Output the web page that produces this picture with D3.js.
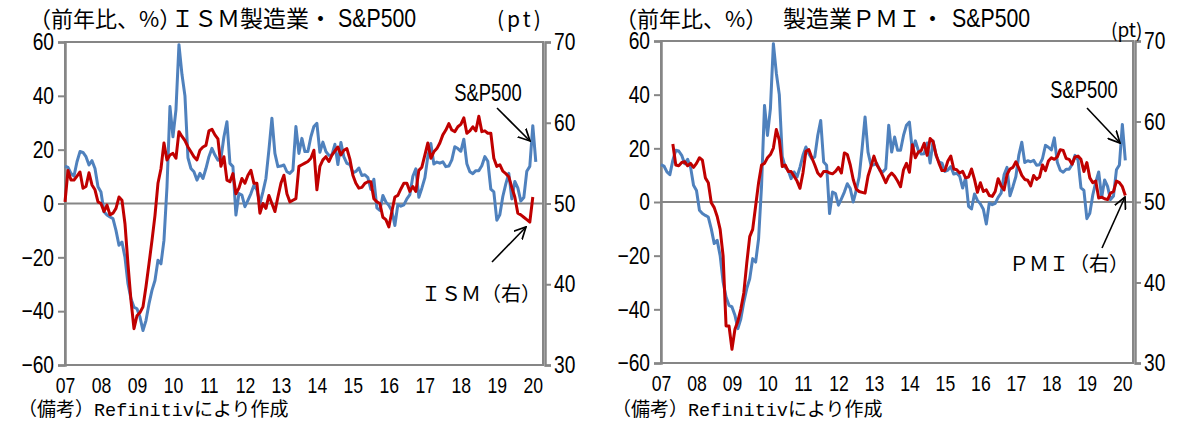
<!DOCTYPE html>
<html><head><meta charset="utf-8">
<script src="https://cdn.jsdelivr.net/npm/d3@7"></script>
<style>
body{margin:0;background:#fff;}
svg text{font-family:"Noto Sans CJK JP","Noto Sans",sans-serif;fill:#000;}
.num{font-family:"Liberation Sans","DejaVu Sans",sans-serif;}
</style></head><body>
<svg id="chart" width="1181" height="421"></svg>
<script>
// ---- data (monthly, index 0 = Jan 2007) ----
const yearLabels = ["07","08","09","10","11","12","13","14","15","16","17","18","19","20"];
const leftTicks = [-60,-40,-20,0,20,40,60];
const rightTicks = [30,40,50,60,70];

// S&P500 YoY (%), Jan 2007 - Feb 2020
const spx = [13.9,13.4,11.2,10.2,15.5,19.3,19.0,17.4,14.3,15.9,13.0,6.2,
 4.3,-3.1,-4.3,-5.0,-5.6,-10.0,-15.5,-14.3,-20.0,-29.8,-35.4,-38.5,
 -39.1,-42.2,-47.2,-43.5,-37.3,-32.3,-28.6,-21.1,-22.4,-13.7,6.0,36.0,
 24.8,34.8,59.0,48.0,40.0,17.0,13.0,11.8,8.7,11.2,9.3,13.0,
 17.4,20.5,18.0,16.1,16.8,24.8,30.4,14.9,13.7,-4.3,3.7,3.1,
 -1.2,1.2,3.7,6.8,5.0,0.0,4.3,9.3,19.9,31.7,18.6,13.7,
 13.9,14.3,11.8,11.2,12.4,28.6,18.6,24.2,19.3,19.3,24.8,28.6,
 29.8,19.0,22.8,19.3,17.9,18.0,22.0,14.5,22.7,17.3,14.9,14.5,
 11.4,11.9,13.2,10.4,10.7,9.6,5.2,9.0,-1.6,-2.6,3.0,0.6,
 -0.7,-2.7,-8.2,-0.4,-1.0,-0.5,1.7,3.3,10.1,12.9,2.3,5.7,
 9.5,17.5,22.3,14.7,15.4,15.0,15.5,13.7,13.9,16.2,21.1,20.4,
 19.4,23.9,14.8,11.8,11.1,12.2,12.2,14.0,17.4,15.7,5.3,4.3,
 -6.2,-4.2,2.6,7.3,11.2,1.7,8.2,5.8,0.9,2.2,12.0,13.8,
 28.9,15.5];

// ISM manufacturing (pt), Jan 2007 - Jan 2020
const ism = [50.2,54.1,52.9,52.9,53.4,53.9,51.9,52.1,53.8,52.3,51.7,50.2,
 50.0,49.0,49.8,48.6,48.8,49.4,50.8,50.4,47.5,42.5,38.0,34.5,
 36.1,36.5,37.2,39.7,42.5,45.4,48.5,52.5,54.3,57.5,55.4,56.0,
 56.2,55.6,58.9,58.3,57.8,57.0,56.4,55.8,55.4,56.6,57.0,57.2,
 59.0,59.2,58.5,58.0,54.6,55.8,52.9,52.7,53.7,51.2,51.9,53.1,
 52.5,53.5,54.1,52.5,52.5,48.8,50.0,49.4,51.0,50.0,49.0,50.8,
 52.5,53.5,51.2,50.2,50.4,50.6,54.6,54.8,55.0,55.2,55.6,56.6,
 51.7,54.6,55.4,55.8,55.2,56.0,56.5,57.0,56.0,56.6,56.8,55.5,
 53.5,52.5,51.9,52.0,52.5,52.7,52.7,50.6,50.2,50.0,48.3,48.0,
 47.1,49.0,50.8,51.0,51.8,52.5,52.5,51.5,52.1,51.5,54.1,54.5,
 56.0,57.5,55.6,56.4,56.8,57.5,58.5,59.1,59.9,59.1,58.9,59.5,
 59.8,60.6,58.7,59.0,59.5,59.0,60.8,58.9,59.0,58.7,58.7,55.6,
 54.6,54.8,54.0,53.7,53.3,52.0,50.8,48.8,48.6,48.3,48.0,47.7,
 50.8];

// Manufacturing PMI (pt), May 2007 - Feb 2020
const pmiStart = 4;
const pmi = [57.2,54.6,54.5,54.9,55.0,54.5,54.8,54.3,
 54.8,55.5,55.2,53.0,52.4,49.9,49.3,48.2,46.6,43.3,34.6,34.6,
 31.7,34.2,35.2,36.7,38.7,42.4,45.7,46.6,49.5,52.4,54.6,54.8,
 55.5,55.9,56.7,59.0,57.7,54.4,54.6,53.8,53.8,53.2,52.6,51.7,
 53.6,56.3,56.5,55.5,54.6,53.6,53.2,53.8,53.8,53.6,53.5,53.8,
 54.3,53.6,56.1,55.9,54.6,52.8,51.6,51.3,51.2,51.1,53.2,54.4,
 55.7,54.6,54.0,53.2,52.4,53.2,53.6,53.2,52.6,51.9,54.0,54.8,
 53.7,57.1,55.5,56.2,56.4,57.3,55.8,57.9,57.5,55.9,54.8,53.9,
 53.9,55.1,55.7,54.1,54.0,53.6,53.8,53.0,53.1,54.1,52.8,51.2,
 52.4,51.3,51.5,50.8,50.7,51.3,52.9,52.0,51.5,53.4,54.1,54.3,
 55.0,54.2,53.3,52.8,52.7,52.0,53.3,52.8,53.1,54.6,53.9,55.1,
 55.5,55.3,55.6,56.5,56.4,55.4,55.3,54.7,55.6,55.7,55.3,53.8,
 54.9,53.0,52.4,52.6,50.5,50.6,50.4,50.3,51.1,51.3,52.6,52.4,
 51.9,50.8];

const svg = d3.select("#chart");
const defs = svg.append("defs");
defs.append("marker").attr("id","arr").attr("viewBox","0 -6 12 12")
  .attr("refX",11).attr("refY",0).attr("markerWidth",13).attr("markerHeight",13)
  .attr("markerUnits","userSpaceOnUse").attr("orient","auto")
  .append("path").attr("d","M0,-5.5L11,0L0,5.5").attr("fill","none")
  .attr("stroke","#000").attr("stroke-width",1.6);

const AX = "#868686";
const SX = 0.8;   // horizontal condensing of the numeric labels
const panels = [
 {x0:65, x1:543, xr:545, y0:42, y1:365, months:159.4,
  red: ism, redStart:0,
  title1:"（前年比、%）", t1x:29, title2:"ＩＳＭ製造業・", t2x:171, t3x:338,
  pt:{x:497,y:27,fs:21,ls:3},
  spLab:{x:488,y:101}, spArr:[497,108,530,141],
  redLab:{x:541,y:301,t:"ＩＳＭ（右）"}, redArr:[492,262,526,227],
  foot:{x:18,y:416}},
 {x0:661, x1:1133, xr:1135, y0:41, y1:363, months:159.6,
  red: pmi, redStart:pmiStart,
  title1:"（前年比、%）", t1x:615, title2:"製造業ＰＭＩ・", t2x:783, t3x:952,
  pt:{x:1111,y:37,fs:19,ls:0},
  spLab:{x:1084,y:98}, spArr:[1087,108,1120,143],
  redLab:{x:1129,y:271,t:"ＰＭＩ（右）"}, redArr:[1102,248,1125,197],
  foot:{x:612,y:416}}
];

function condense(sel){
  sel.each(function(){
    const t = d3.select(this);
    const x0 = +t.attr("x") || 0;
    t.attr("x", x0 / SX).attr("transform", `scale(${SX},1)`);
  });
}

panels.forEach(p => {
  const g = svg.append("g");
  const x = d3.scaleLinear().domain([0,p.months]).range([p.x0,p.x1]);
  const yL = d3.scaleLinear().domain([-60,60]).range([p.y1,p.y0]);
  const yR = d3.scaleLinear().domain([30,70]).range([p.y1,p.y0]);

  // frame
  g.append("rect").attr("x",p.x0).attr("y",p.y0).attr("width",p.x1-p.x0).attr("height",p.y1-p.y0)
    .attr("fill","none").attr("stroke",AX).attr("stroke-width",2);
  // zero line
  g.append("line").attr("x1",p.x0).attr("x2",p.x1).attr("y1",yL(0)).attr("y2",yL(0))
    .attr("stroke",AX).attr("stroke-width",2);

  // left axis
  const la = g.append("g").attr("transform",`translate(${p.x0},0)`)
    .call(d3.axisLeft(yL).tickValues(leftTicks).tickSize(7).tickPadding(4));
  la.select(".domain").attr("stroke",AX).attr("stroke-width",2.5);
  la.selectAll(".tick line").attr("stroke",AX).attr("stroke-width",2);
  la.selectAll(".tick text").attr("class","num").attr("font-size",24).attr("fill","#000")
    .attr("font-family",null).call(condense);

  // right axis
  const ra = g.append("g").attr("transform",`translate(${p.xr},0)`)
    .call(d3.axisRight(yR).tickValues(rightTicks).tickSize(6).tickPadding(3));
  ra.select(".domain").attr("stroke",AX).attr("stroke-width",2.5);
  ra.selectAll(".tick line").attr("stroke",AX).attr("stroke-width",2);
  ra.selectAll(".tick text").attr("class","num").attr("font-size",24).attr("fill","#000")
    .attr("font-family",null).call(condense);

  // bottom labels
  const ba = g.append("g").attr("transform",`translate(0,${p.y1})`)
    .call(d3.axisBottom(x).tickValues(yearLabels.map((d,i)=>i*12))
      .tickFormat((d,i)=>yearLabels[i]).tickSize(0).tickPadding(12));
  ba.select(".domain").remove();
  ba.selectAll(".tick text").attr("class","num").attr("font-size",22).attr("fill","#000")
    .attr("font-family",null).call(condense);

  // lines
  const lineL = d3.line().x((d,i)=>x(i)).y(d=>yL(d));
  g.append("path").datum(spx).attr("d",lineL).attr("fill","none")
    .attr("stroke","#4f81bd").attr("stroke-width",3).attr("stroke-linejoin","round");
  const lineR = d3.line().x((d,i)=>x(i+p.redStart)).y(d=>yR(d));
  g.append("path").datum(p.red).attr("d",lineR).attr("fill","none")
    .attr("stroke","#c00000").attr("stroke-width",3).attr("stroke-linejoin","round");

  // titles
  g.append("text").attr("x",p.t1x).attr("y",27).attr("font-size",22).text(p.title1);
  g.append("text").attr("x",p.t2x).attr("y",27).attr("font-size",23).text(p.title2);
  g.append("text").attr("x",p.t3x / 0.82).attr("y",27).attr("class","num").attr("font-size",26)
    .attr("transform","scale(0.82,1)").text("S&P500");
  g.append("text").attr("x",p.pt.x).attr("y",p.pt.y).attr("font-size",p.pt.fs)
    .attr("letter-spacing",p.pt.ls).text("(pt)");

  // annotations
  g.append("text").attr("x",p.spLab.x / SX).attr("y",p.spLab.y).attr("class","num").attr("font-size",23)
    .attr("transform",`scale(${SX},1)`).attr("text-anchor","middle").text("S&P500");
  g.append("line").attr("x1",p.spArr[0]).attr("y1",p.spArr[1]).attr("x2",p.spArr[2]).attr("y2",p.spArr[3])
    .attr("stroke","#000").attr("stroke-width",1.6).attr("marker-end","url(#arr)");
  g.append("text").attr("x",p.redLab.x).attr("y",p.redLab.y).attr("font-size",20)
    .attr("text-anchor","end").text(p.redLab.t);
  g.append("line").attr("x1",p.redArr[0]).attr("y1",p.redArr[1]).attr("x2",p.redArr[2]).attr("y2",p.redArr[3])
    .attr("stroke","#000").attr("stroke-width",1.6).attr("marker-end","url(#arr)");

  const ft = g.append("text").attr("x",p.foot.x).attr("y",p.foot.y).attr("font-size",19);
  ft.append("tspan").text("（備考）");
  ft.append("tspan").attr("font-family","'Liberation Mono',monospace").attr("font-size",18.5).text("Refinitiv");
  ft.append("tspan").text("により作成");
});
</script>
</body></html>
